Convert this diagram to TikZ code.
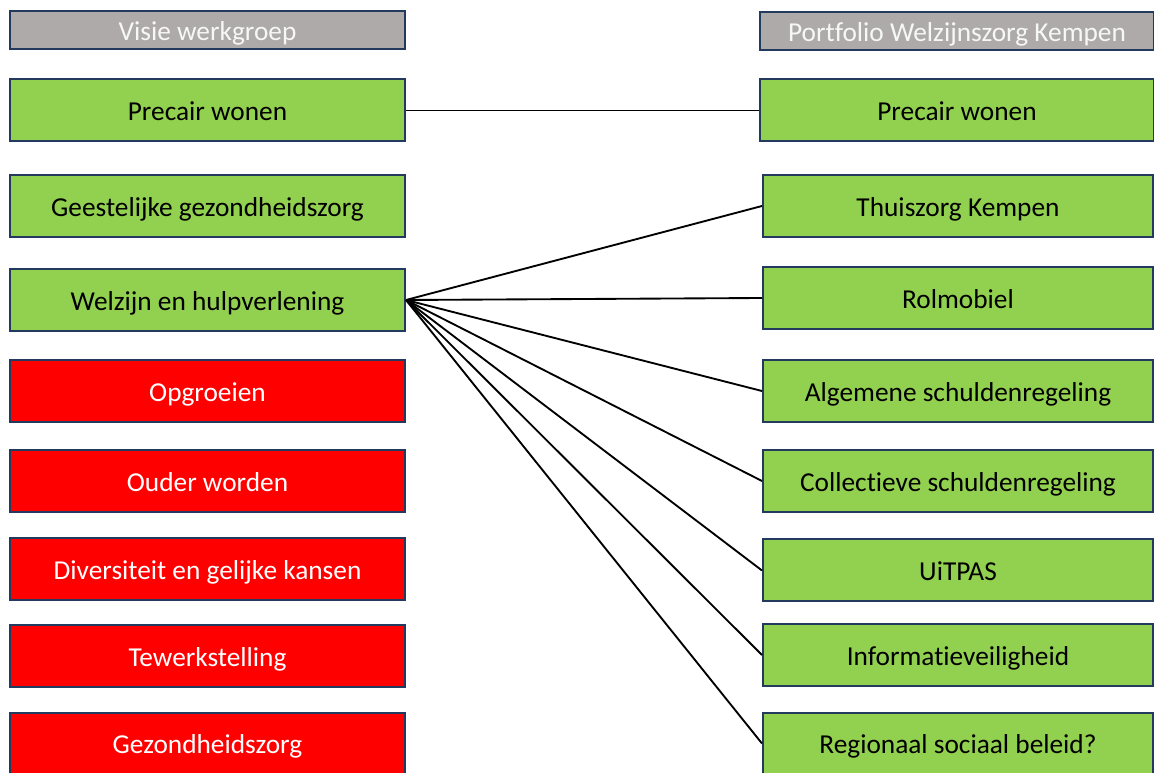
\documentclass[tikz,border=0pt]{standalone}
\usepackage{fontspec}
\setmainfont{Carlito}[RawFeature={-liga;-clig;-calt;-dlig}]
\definecolor{boxgreen}{HTML}{92D050}
\definecolor{boxred}{HTML}{FF0000}
\definecolor{boxgray}{HTML}{AEAAAA}
\definecolor{boxline}{HTML}{223A5E}

\begin{document}
\begin{tikzpicture}[x=0.75pt,y=-0.75pt,
    box/.style={draw=boxline, line width=1.5pt, inner sep=0pt, minimum height=46.5pt, text height=16pt, text depth=0.5pt, font=\fontsize{20.5}{24}\selectfont},
    lbox/.style={box, minimum width=296.25pt},
    rbox/.style={box, minimum width=292.5pt},
    green/.style={fill=boxgreen, text=black},
    red/.style={fill=boxred, text=white},
    head/.style={fill=boxgray, text=white!97!black, minimum height=28.5pt}]
    \useasboundingbox (0,0) rectangle (1154,773);
    \node(vw)[lbox, head] at (207.5,30) {Visie werkgroep};
    \node(pw)[lbox, green] at (207.5,110.5) {Precair wonen};
    \node(gg)[lbox, green] at (207.5,206) {Geestelijke gezondheidszorg};
    \node(wh)[lbox, green] at (207.5,300) {Welzijn en hulpverlening};
    \node(og)[lbox, red] at (207.5,391) {Opgroeien};
    \node(ow)[lbox, red] at (207.5,481) {Ouder worden};
    \node(dg)[lbox, red] at (207.5,569) {Diversiteit en gelijke kansen};
    \node(tw)[lbox, red] at (207.5,656) {Tewerkstelling};
    \node(gz)[lbox, red] at (207.5,743.5) {Gezondheidszorg};
    \node(pwk)[rbox, head, minimum width=295.5pt] at (957,31) {Portfolio Welzijnszorg Kempen};
    \node(pr)[rbox, green, minimum width=295.5pt] at (957,110.5) {Precair wonen};
    \node(tk)[rbox, green] at (958,206) {Thuiszorg Kempen};
    \node(rm)[rbox, green] at (958,298) {Rolmobiel};
    \node(as)[rbox, green] at (958,391) {Algemene schuldenregeling};
    \node(cs)[rbox, green] at (958,481) {Collectieve schuldenregeling};
    \node(ui)[rbox, green] at (958,570.5) {UiTPAS};
    \node(iv)[rbox, green] at (958,655) {Informatieveiligheid};
    \node(rb)[rbox, green] at (958,743.5) {Regionaal sociaal beleid?};
    \draw[line width=1.4pt] (pw.east) -- (pr.west);
    \foreach \r in {tk,rm,as,cs,ui,iv,rb}
      \draw[line width=1.4pt] (wh.east) -- (\r.west);
  \end{tikzpicture}
\end{document}
